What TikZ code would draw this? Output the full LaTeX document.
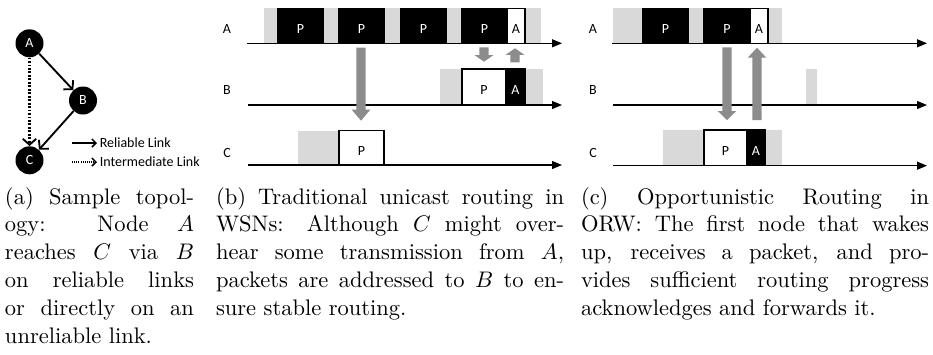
\documentclass[tikz,border=0pt]{standalone}
\usepackage{fontspec}
\usepackage{graphicx}
\usetikzlibrary{arrows.meta}
\newfontfamily\carl{Carlito}
\definecolor{lgray}{RGB}{217,217,217}
\definecolor{agray}{RGB}{140,140,140}
\newcommand\tbox[7]{%
  \path[#1] (#2,#4) rectangle (#3,#5);
  \node[#1txt] (#6) at ({(#2+#3)/2},{(#4+#5)/2+2.8}) {#7};}
\newcommand\garrow[4]{%
  \fill[agray] (#1-4.7,#2) -- (#1+4.7,#2) -- (#1+4.7,#3-#4) -- (#1+9.3,#3-#4) -- (#1,#3)
     -- (#1-9.3,#3-#4) -- (#1-4.7,#3-#4) -- cycle;}
\newcommand\capfont{\fontsize{10}{12.44}\selectfont}
\newcommand\capbox[2]{\scalebox{1.6875}{\parbox[t]{#1}{\capfont #2}}}
\begin{document}
\begin{tikzpicture}[x=0.75pt,y=-0.75pt,
  sfont/.style={font=\carl\fontsize{10.5}{12}\selectfont},
  circ/.style={circle,fill=black,text=white,minimum size=21pt,inner sep=0,sfont},
  rel/.style={line width=1.4pt,-{Straight Barb[length=4.5pt,width=10pt,line width=1.4pt]}},
  inter/.style={line width=1.8pt,dash pattern=on 1.4pt off 1.2pt,-{Straight Barb[length=4.5pt,width=10pt,line width=1.4pt]}},
  legrel/.style={line width=0.9pt,-{Straight Barb[length=3pt,width=6pt,line width=1.1pt]}},
  leginter/.style={line width=0.9pt,dash pattern=on 0.8pt off 0.8pt,-{Straight Barb[length=3pt,width=6pt,line width=1.1pt]}},
  legtxt/.style={anchor=west,inner sep=0,sfont},
  lbl/.style={inner sep=0,sfont},
  axis/.style={line width=0.9pt,-{Triangle[length=7.5pt,width=6pt]}},
  blk/.style={fill=black,draw=black,line width=0.8pt},
  blktxt/.style={text=white,inner sep=0,sfont},
  wht/.style={fill=white,draw=black,line width=0.9pt},
  whttxt/.style={text=black,inner sep=0,sfont},
  captxt/.style={anchor=base west,inner sep=0,outer sep=0}
]
\useasboundingbox (0,0) rectangle (933,354);

% ---------- (a) topology ----------
\node[circ] (nA) at (29.5,43.3) {A};
\node[circ] (nB) at (83,100.5) {B};
\node[circ] (nC) at (29.5,160.3) {C};
\draw[rel] (nA) -- (nB);
\draw[rel] (nB) -- (nC);
\draw[inter] (nA) -- (nC);
\coordinate (l1s) at (72,143);
\coordinate (l1e) at (97,143);
\coordinate (l2s) at (72,162);
\coordinate (l2e) at (97,162);
\draw[legrel] (l1s) -- (l1e);
\draw[leginter] (l2s) -- (l2e);
\node[legtxt] (lt1) at (99.5,143) {Reliable Link};
\node[legtxt] (lt2) at (99.5,162) {Intermediate Link};

% ---------- (b) traditional ----------
\fill[lgray] (264,8.3) rectangle (541,43.3);
\fill[lgray] (440,69) rectangle (543,105);
\fill[lgray] (298,130.7) rectangle (339,165);
\tbox{blk}{278}{323}{8.3}{43.3}{bP1}{P}
\tbox{blk}{339}{384}{8.3}{43.3}{bP2}{P}
\tbox{blk}{401}{446}{8.3}{43.3}{bP3}{P}
\tbox{blk}{462}{507}{8.3}{43.3}{bP4}{P}
\tbox{wht}{507}{525}{8.3}{43.3}{bA1}{A}
\tbox{wht}{462}{506}{69}{105}{bBP}{P}
\tbox{blk}{506}{525}{69}{105}{bBA}{A}
\tbox{wht}{339}{384}{130.7}{165}{bCP}{P}
\node[lbl] (bLA) at (227,29.2) {A};
\node[lbl] (bLB) at (227,90.5) {B};
\node[lbl] (bLC) at (227,153.3) {C};
\coordinate (bA0) at (247,43.3); \coordinate (bA1e) at (562,43.3);
\coordinate (bB0) at (248,105);  \coordinate (bB1e) at (562,105);
\coordinate (bC0) at (248,165);  \coordinate (bC1e) at (562,165);
\draw[axis] (bA0) -- (bA1e);
\draw[axis] (bB0) -- (bB1e);
\draw[axis] (bC0) -- (bC1e);
\garrow{361}{47.7}{120.7}{11}
\garrow{484}{47.3}{61.7}{6.5}
\garrow{515}{62.3}{48.3}{-6.5}

% ---------- (c) opportunistic ----------
\fill[lgray] (613,8.3) rectangle (782,43.3);
\fill[lgray] (806,69) rectangle (817,105);
\fill[lgray] (663,130) rectangle (782,165.7);
\tbox{blk}{643}{688}{8.3}{43.3}{cP1}{P}
\tbox{blk}{704}{750}{8.3}{43.3}{cP2}{P}
\tbox{wht}{750}{768}{8.3}{43.3}{cA1}{A}
\tbox{wht}{704}{747}{130}{165.7}{cCP}{P}
\tbox{blk}{747}{765}{130}{165.7}{cCA}{A}
\node[lbl] (cLA) at (593,29.2) {A};
\node[lbl] (cLB) at (593,90.5) {B};
\node[lbl] (cLC) at (593,153.3) {C};
\coordinate (cA0) at (612,43.3); \coordinate (cA1e) at (927,43.3);
\coordinate (cB0) at (613,105);  \coordinate (cB1e) at (927,105);
\coordinate (cC0) at (613,165.7);\coordinate (cC1e) at (927,165.7);
\draw[axis] (cA0) -- (cA1e);
\draw[axis] (cB0) -- (cB1e);
\draw[axis] (cC0) -- (cC1e);
\garrow{727}{47.3}{120}{9}
\garrow{757}{120}{47.7}{-10}

% ---------- captions ----------
\node[captxt] (capa) at (5,204) {\capbox{84pt}{%
(a) Sample topol-\linebreak ogy: Node $A$\linebreak reaches $C$ via $B$\linebreak on reliable links\linebreak or directly on an\linebreak unreliable link.}};
\node[captxt] (capb) at (216,204) {\capbox{154.7pt}{%
(b) Traditional unicast routing in\linebreak WSNs: Although $C$ might over-\linebreak hear some transmission from $A$,\linebreak packets are addressed to $B$ to en-\linebreak sure stable routing.}};
\node[captxt] (capc) at (581,204) {\capbox{154.7pt}{%
(c) Opportunistic Routing in\linebreak ORW: The first node that wakes\linebreak up, receives a packet, and pro-\linebreak vides sufficient routing progress\linebreak acknowledges and forwards it.}};
\end{tikzpicture}
\end{document}
